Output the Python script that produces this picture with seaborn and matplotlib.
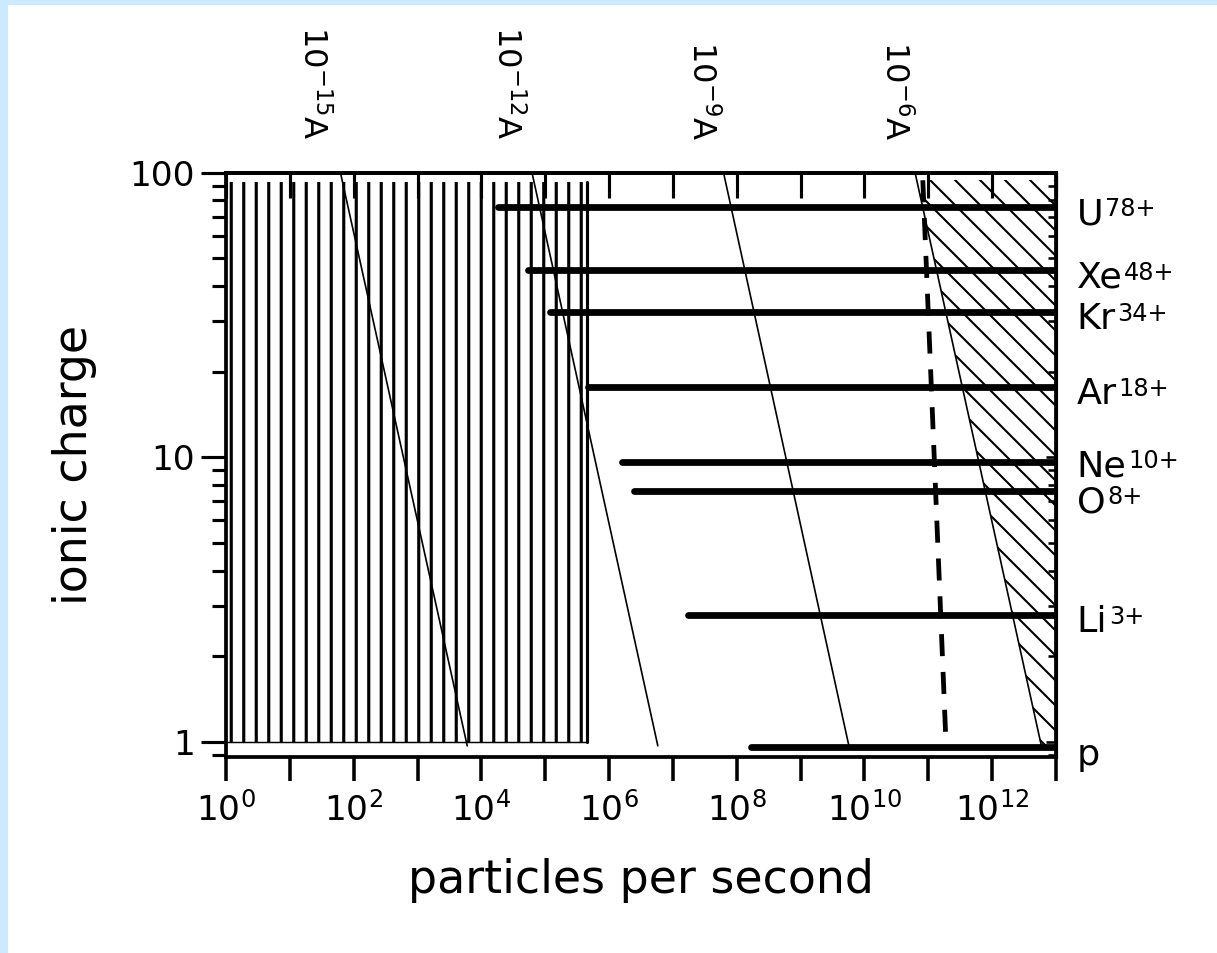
import numpy as np
import pandas as pd
import matplotlib
matplotlib.use("Agg")
import matplotlib.pyplot as plt
import matplotlib.ticker as mticker
import matplotlib.transforms as mtransforms
from matplotlib.patches import Rectangle, Polygon
import seaborn as sns

# ion beams: name, charge state, charge level of the line, lowest rate
ions = ["U", "Xe", "Kr", "Ar", "Ne", "O", "Li", "p"]
ion_sup = ["78+", "48+", "34+", "18+", "10+", "8+", "3+", ""]
beam_q = [76, 45.5, 32.5, 17.7, 9.6, 7.6, 2.8, 0.96]
beam_start = [1.8e4, 5.4e4, 1.2e5, 4.7e5, 1.6e6, 2.5e6, 1.7e7, 1.7e8]
beam_end = 1e13

# lines of constant beam current, particles/s at the top (q=100) and bottom (q=0.97)
current_labels = ["10^{-15}A", "10^{-12}A", "10^{-9}A", "10^{-6}A"]
current_n_top = [62, 6.2e4, 6.2e7, 6.2e10]
current_n_bottom = [6.0e3, 5.8e6, 5.7e9, 5.9e12]
current_q = [100, 0.97]
current_label_x = [23, 2.5e4, 2.85e7, 3.0e10]

# dashed limit line
dash_n = [8.2e10, 1.9e11]
dash_q = [94, 0.97]

# vertically hatched region (low intensity) and diagonally hatched region (high current)
low_n = [1, 4.5e5]
low_q = [1, 93]
high_n = [6.6e10, 1e13, 1e13, 5.9e12]
high_q = [94, 94, 0.97, 0.97]

x_ticks = [10.0 ** k for k in range(14)]

W, H, DPI = 1218, 953, 75
sns.set_style("ticks")
plt.rcParams["font.family"] = ["DejaVu Sans"]
plt.rcParams["mathtext.fontset"] = "dejavusans"
plt.rcParams["hatch.color"] = "black"
for k in ["text.color", "axes.edgecolor", "axes.labelcolor", "xtick.color", "ytick.color"]:
    plt.rcParams[k] = "black"

fig = plt.figure(figsize=(W / DPI, H / DPI), dpi=DPI)
fig.patch.set_facecolor("white")
ax = fig.add_axes([226 / W, 1 - 757 / H, 830 / W, 584.4 / H])
ax.set_xscale("log")
ax.set_yscale("log")
ax.set_xlim(1, 1e13)
ax.set_ylim(0.886, 100)

# hatched regions
plt.rcParams["hatch.linewidth"] = 3.0
ax.add_patch(Rectangle((low_n[0], low_q[0]), low_n[1] - low_n[0], low_q[1] - low_q[0],
                       fill=False, hatch="|", edgecolor="black", lw=0, zorder=1))
ax.plot([low_n[0], low_n[1]], [low_q[0], low_q[0]], color="black", lw=1.4, zorder=1)
ax.plot([low_n[1], low_n[1]], low_q, color="black", lw=3.0, zorder=1)
plt.rcParams["hatch.linewidth"] = 2.0
ax.add_patch(Polygon(list(zip(high_n, high_q)), closed=True, fill=False, hatch="\\",
                     edgecolor="black", lw=0, zorder=1))

# constant current lines
cur_df = pd.DataFrame({
    "line": current_labels * 2,
    "n": current_n_top + current_n_bottom,
    "q": [current_q[0]] * 4 + [current_q[1]] * 4,
})
sns.lineplot(data=cur_df, x="n", y="q", units="line", estimator=None, color="black",
             lw=1.6, ax=ax, legend=False, zorder=2)

# beams
beam_df = pd.DataFrame({
    "ion": ions * 2,
    "n": beam_start + [beam_end] * len(ions),
    "q": beam_q * 2,
})
sns.lineplot(data=beam_df, x="n", y="q", units="ion", estimator=None, color="black",
             lw=6.5, solid_capstyle="round", ax=ax, legend=False, zorder=4)

ax.plot(dash_n, dash_q, color="black", lw=4.6, ls=(0, (4.6, 3.3)), zorder=3)

# ion labels: baseline a little below each beam, superscript top at cap height
base_drop = {"Ne": 13.5, "O": 20}
for name, sup, q in zip(ions, ion_sup, beam_q):
    tr = mtransforms.offset_copy(ax.get_yaxis_transform(), fig=fig,
                                 y=-base_drop.get(name, 17), units="points")
    t = ax.text(1.025, q, name, transform=tr, fontsize=35, ha="left", va="baseline",
                clip_on=False)
    if sup:
        ax.annotate(sup, xy=(1, 1), xycoords=t, xytext=(1.5, 0), textcoords="offset points",
                    fontsize=23, ha="left", va="top")

for lab, xv in zip(current_labels, current_label_x):
    ax.text(xv, 1.056, r"$\mathregular{%s}$" % lab, transform=ax.get_xaxis_transform(),
            fontsize=31, rotation=-90, ha="center", va="bottom", clip_on=False)

# axes styling
for s in ax.spines.values():
    s.set_linewidth(3.6)
    s.set_zorder(5)
ax.xaxis.set_major_locator(mticker.FixedLocator(x_ticks))
ax.xaxis.set_minor_locator(mticker.NullLocator())
ax.xaxis.set_major_formatter(mticker.FuncFormatter(
    lambda v, p: r"$10^{%d}$" % round(np.log10(v)) if round(np.log10(v)) % 2 == 0 else ""))
ax.yaxis.set_major_locator(mticker.FixedLocator([1, 10, 100]))
ax.yaxis.set_major_formatter(mticker.FixedFormatter(["1", "10", "100"]))
ax.yaxis.set_minor_locator(mticker.LogLocator(base=10, subs=np.arange(2, 10)))
ax.yaxis.set_minor_formatter(mticker.NullFormatter())
ax.tick_params(axis="x", which="major", direction="out", length=23, width=3.4,
               pad=10, labelsize=33)
ax.tick_params(axis="y", which="major", direction="out", length=24, width=3,
               pad=6, labelsize=33)
ax.tick_params(axis="y", which="minor", direction="out", length=13, width=3)

top = ax.secondary_xaxis("top")
top.xaxis.set_major_locator(mticker.FixedLocator(x_ticks))
top.xaxis.set_minor_locator(mticker.NullLocator())
top.xaxis.set_major_formatter(mticker.NullFormatter())
top.tick_params(axis="x", direction="in", length=24, width=3)
top.spines["top"].set_linewidth(3.6)

right = ax.secondary_yaxis("right")
right.yaxis.set_major_locator(mticker.FixedLocator([1, 10, 100]))
right.yaxis.set_minor_locator(mticker.LogLocator(base=10, subs=np.arange(2, 10)))
right.yaxis.set_major_formatter(mticker.NullFormatter())
right.yaxis.set_minor_formatter(mticker.NullFormatter())
right.tick_params(axis="y", which="major", direction="in", length=10, width=2.5)
right.tick_params(axis="y", which="minor", direction="in", length=8, width=2.5)
right.spines["right"].set_linewidth(3.0)

ax.set_xlabel("particles per second", fontsize=44, va="top")
ax.xaxis.set_label_coords(0.5, -0.172)
ax.set_ylabel("ionic charge", fontsize=44, va="bottom")
ax.yaxis.set_label_coords(-0.155, 0.5)

# light blue scan border
fig.patches.append(Rectangle((0, 1 - 4 / H), 1, 4 / H, transform=fig.transFigure,
                             color="#cce9ff", zorder=0))
fig.patches.append(Rectangle((0, 0), 7 / W, 1, transform=fig.transFigure,
                             color="#cce9ff", zorder=0))

fig.savefig("out.png", dpi=DPI)
